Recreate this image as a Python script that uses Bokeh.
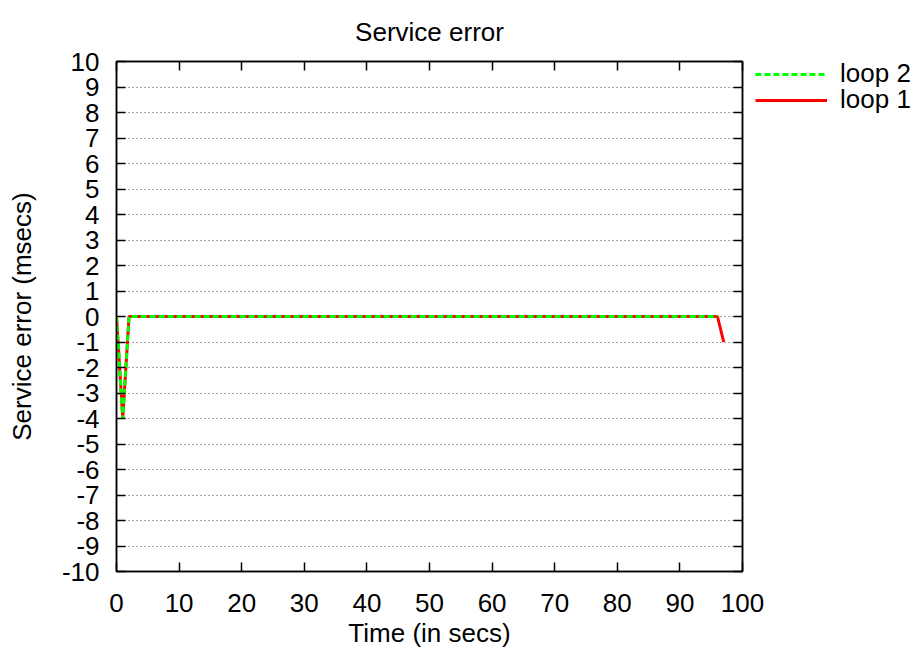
from bokeh.plotting import figure
from bokeh.layouts import row
from bokeh.models import (Range1d, FixedTicker, LinearAxis, Legend, LegendItem,
                          CustomJSTickFormatter)
from bokeh.embed import file_html
from bokeh.resources import INLINE

# Data
loop1_t = [0, 1, 2, 96, 97]
loop1_v = [0, -4, 0, 0, -1]
loop2_t = [0, 1, 2, 96]
loop2_v = [0, -4, 0, 0]
x_ticks = [0, 10, 20, 30, 40, 50, 60, 70, 80, 90, 100]
y_ticks = list(range(-10, 11))

FONT = "Liberation Sans"
FS = "26px"
RED = "#ff0000"
GREEN = "#00ff00"

p = figure(width=772, height=650, output_backend="svg", toolbar_location=None,
           x_range=Range1d(0, 100), y_range=Range1d(-10, 10),
           min_border_left=116, min_border_right=30,
           min_border_top=60, min_border_bottom=78,
           title="Service error")

p.title.align = "center"
p.title.text_font = FONT
p.title.text_font_size = FS
p.title.text_font_style = "normal"
p.title.text_color = "black"
p.title.standoff = 29

p.outline_line_color = "black"
p.outline_line_width = 1.5
p.background_fill_color = "white"
p.border_fill_color = "white"

p.xgrid.visible = False
p.ygrid.ticker = FixedTicker(ticks=y_ticks)
p.ygrid.grid_line_color = "#444444"
p.ygrid.grid_line_dash = "1 3"
p.ygrid.grid_line_width = 1

def style_axis(ax, ticks, show_labels=True, label=None):
    ax.ticker = FixedTicker(ticks=ticks)
    ax.major_tick_in = 9
    ax.major_tick_out = 0
    ax.minor_tick_in = 0
    ax.minor_tick_out = 0
    ax.major_tick_line_color = "black"
    ax.major_tick_line_width = 1.5
    ax.axis_line_color = "black"
    ax.axis_line_width = 1.5
    ax.major_label_text_font = FONT
    ax.major_label_text_color = "black"
    if show_labels:
        ax.major_label_text_font_size = FS
        ax.formatter = CustomJSTickFormatter(code="return tick.toString();")
    else:
        ax.major_label_text_font_size = "1px"
        ax.major_label_standoff = 0
        ax.formatter = CustomJSTickFormatter(code="return '';")
    if label:
        ax.axis_label = label
        ax.axis_label_text_font = FONT
        ax.axis_label_text_font_size = FS
        ax.axis_label_text_font_style = "normal"
        ax.axis_label_text_color = "black"

style_axis(p.xaxis[0], x_ticks, label="Time (in secs)")
style_axis(p.yaxis[0], y_ticks, label="Service error (msecs)")
p.xaxis[0].major_label_standoff = 22
p.yaxis[0].major_label_standoff = 17
p.xaxis[0].axis_label_standoff = 3
p.yaxis[0].axis_label_standoff = 22

top = LinearAxis()
style_axis(top, x_ticks, show_labels=False)
p.add_layout(top, "above")
right = LinearAxis()
style_axis(right, y_ticks, show_labels=False)
p.add_layout(right, "right")

r1 = p.line(loop1_t, loop1_v, line_color=RED, line_width=3)
r2 = p.line(loop2_t, loop2_v, line_color=GREEN, line_width=3, line_dash="6 3")

# Legend panel (outside the plot frame, to the right), overlapping the
# main figure's right border transparently
p2 = figure(width=177, height=650, output_backend="svg", toolbar_location=None,
            x_range=Range1d(0, 1), y_range=Range1d(0, 1),
            min_border_left=0, min_border_right=0,
            min_border_top=0, min_border_bottom=78,
            x_axis_location=None, y_axis_location=None,
            margin=(0, 0, 0, -30))
p2.grid.visible = False
p2.outline_line_color = None
p2.background_fill_alpha = 0
p2.border_fill_alpha = 0
nan = float("nan")
l1 = p2.line(x=[nan], y=[nan], line_color=RED, line_width=3)
l2 = p2.line(x=[nan], y=[nan], line_color=GREEN, line_width=3, line_dash="6 3")

def make_legend(label, rend, y):
    return Legend(items=[LegendItem(label=label, renderers=[rend])],
                  location=(13, y), padding=0, margin=0, spacing=0,
                  label_height=26, glyph_height=20, glyph_width=72,
                  label_standoff=13, border_line_color=None,
                  background_fill_alpha=0, label_text_font=FONT,
                  label_text_font_size=FS, label_text_color="black")

p2.add_layout(make_legend("loop 2", l2, 482), "center")
p2.add_layout(make_legend("loop 1", l1, 456), "center")

layout = row(p, p2, spacing=0)
open("out.html", "w").write(file_html(layout, INLINE))
